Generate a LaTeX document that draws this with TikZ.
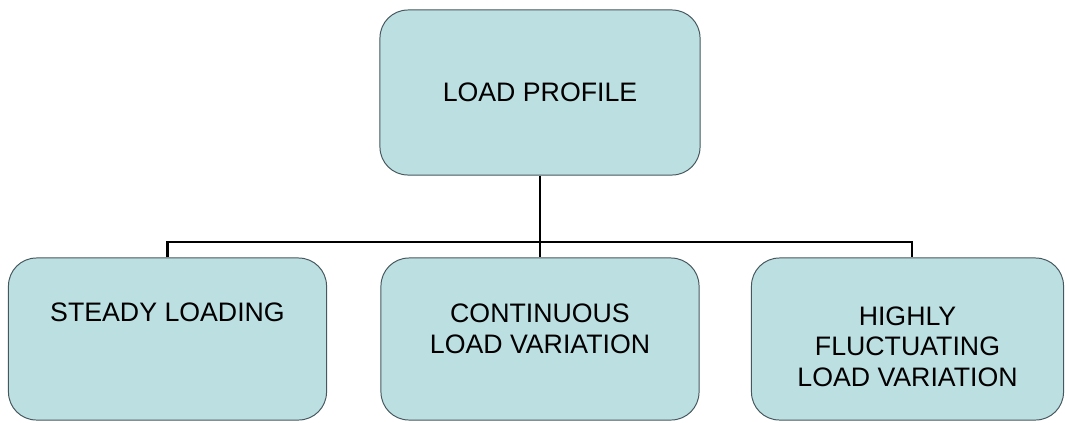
\documentclass[tikz,border=0pt]{standalone}
\usepackage{fontspec}
\setmainfont{Liberation Sans}
\usepackage{tikz}
\usetikzlibrary{positioning}
\definecolor{boxfill}{HTML}{BCDFE2}
\definecolor{boxline}{HTML}{46585E}

\tikzset{
  box/.style={draw=boxline, line width=0.7pt, fill=boxfill, rounded corners=0.7cm,
    minimum width=7.95cm, minimum height=4.05cm, inner sep=0pt},
  lbl/.style={align=center, inner sep=0pt, font=\fontsize{19}{21.8}\selectfont},
  link/.style={black, line width=2pt}
}

\begin{document}
\begin{tikzpicture}[x=0.025cm, y=-0.025cm]

\useasboundingbox (0,0) rectangle (1065,422);

% root and the three kinds of loading
\path
(540,92.5) node[box, minimum width=8cm, minimum height=4.125cm] (profile){};
\path
(167.5,339) node[box] (steady){};
\path
(540,339) node[box] (continuous){};
\path
(907.5,339) node[box, minimum width=7.8cm] (fluct){};

\coordinate (bus) at (540,242);

%% connectors
\draw[link] (profile.south) -- (continuous.north);
\draw[link] (steady.north) |- (bus) -| ([xshift=0.11cm]fluct.north);

%% texts
\path
(profile.center) node[lbl] (profiletxt){LOAD PROFILE};
\node[lbl, anchor=north, below=1.125cm of steady.north] (steadytxt){STEADY LOADING};
\node[lbl, anchor=north, below=1.15cm of continuous.north] (conttxt){CONTINUOUS\\LOAD VARIATION};
\node[lbl, anchor=north, below=1.22cm of fluct.north] (flucttxt){HIGHLY\\FLUCTUATING\\LOAD VARIATION};

\end{tikzpicture}
\end{document}
